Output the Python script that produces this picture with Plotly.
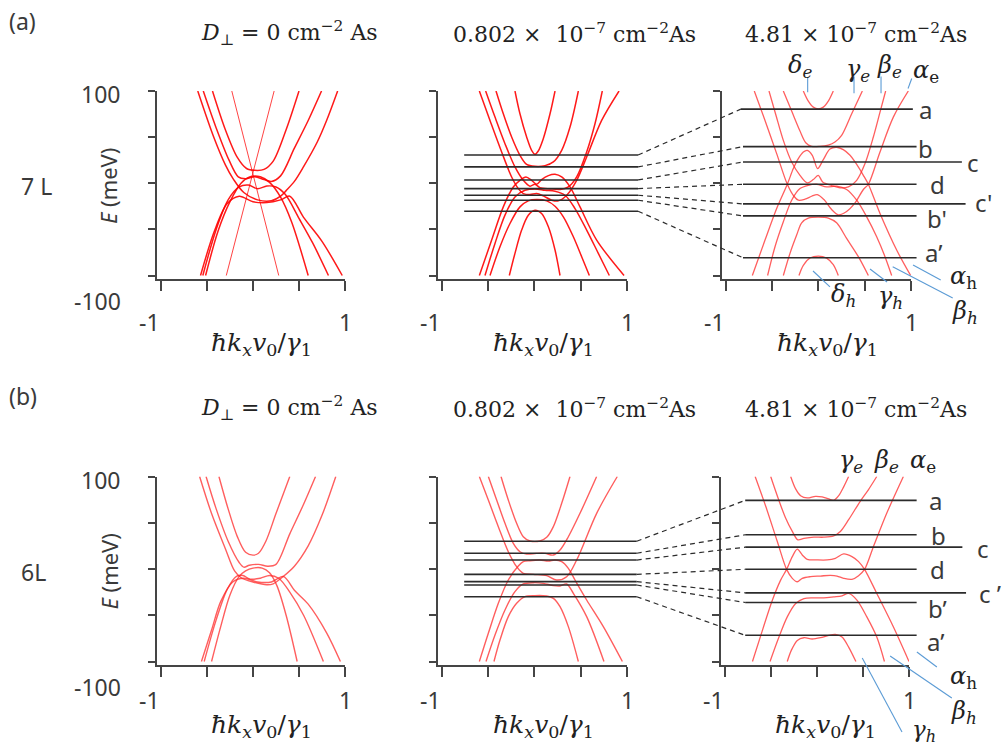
import plotly.graph_objects as go

W, H = 1005, 749

# ---------------- band data: k = hbar kx v0/gamma1 , E in meV ----------------
# Panel 1 : 7L, D = 0
P1_K = [
    [-0.23, 0.28],
    [0.23, -0.29],
    [-0.44, -0.30, -0.17, -0.07, 0.02, 0.12, 0.22, 0.36, 0.50],
    [-0.54, -0.40, -0.26, -0.16, -0.08, 0.02, 0.12, 0.20, 0.30, 0.45, 0.60, 0.745],
    [-0.60, -0.43, -0.30, -0.21, -0.10, 0.05, 0.20, 0.30, 0.36, 0.45, 0.55, 0.70, 0.80, 0.92],
    [-0.515, -0.38, -0.25, -0.13, -0.03, 0.08, 0.18, 0.30, 0.42, 0.60],
    [-0.545, -0.40, -0.27, -0.15, -0.05, 0.05, 0.15, 0.25, 0.35, 0.50, 0.65, 0.82],
    [-0.57, -0.42, -0.28, -0.15, 0.00, 0.15, 0.30, 0.40, 0.55, 0.75, 0.97],
]
P1_E = [
    [100, -100],
    [100, -100],
    [100, 58, 28, 16, 14, 15, 24, 58, 100],
    [100, 60, 25, 7, 5, 7, 4, 2, 8, 38, 68, 100],
    [100, 51, 20, 4, -10, -18, -19, -14, -8, 2, 18, 45, 68, 100],
    [-100, -52, -20, 0, 7, 7, 1, -15, -42, -100],
    [-100, -50, -18, -4, -2, -6, -3, -4, -12, -38, -65, -100],
    [-100, -52, -22, -14, -20, -21, -18, -14, -37, -63, -100],
]
P1_THIN = [0, 1]

# Panel 2 : 7L, D = 0.802e-7
P2_K = [
    [-0.211, -0.157, -0.085, -0.031, 0.005, 0.041, 0.095, 0.168, 0.222],
    [-0.272, -0.211, -0.139, -0.067, 0.005, 0.077, 0.150, 0.222, 0.276],
    [-0.596, -0.481, -0.355, -0.247, -0.175, -0.121, -0.049, 0.023, 0.095, 0.186, 0.258, 0.348, 0.456, 0.564, 0.726, 0.914],
    [-0.596, -0.463, -0.337, -0.229, -0.157, -0.092, -0.031, 0.023, 0.077, 0.150, 0.222, 0.294, 0.384, 0.492, 0.672, 0.968],
    [-0.528, -0.427, -0.319, -0.211, -0.121, -0.049, 0.005, 0.059, 0.168, 0.276, 0.366, 0.456, 0.564, 0.654, 0.733],
    [-0.535, -0.427, -0.319, -0.211, -0.103, 0.005, 0.114, 0.222, 0.330, 0.438, 0.564, 0.690, 0.809],
    [-0.416, -0.337, -0.247, -0.157, -0.085, 0.005, 0.114, 0.204, 0.294, 0.384, 0.474],
    [-0.481, -0.373, -0.265, -0.157, -0.067, 0.023, 0.132, 0.222, 0.312, 0.420, 0.510, 0.593],
]
P2_E = [
    [100, 75.3, 50.1, 35.7, 31.4, 35.0, 48.3, 75.3, 100],
    [-100, -76.0, -50.8, -34.6, -29.2, -32.8, -47.2, -72.4, -100],
    [100, 68.1, 33.9, 6.8, -5.8, -11.2, -12.3, -11.2, -13.7, -18.4, -19.1, -13.0, 3.2, 28.5, 68.1, 100],
    [-100, -61.6, -25.6, -4.0, 3.2, 6.8, 3.2, -1.1, 4.0, 8.3, 9.7, 6.8, -4.0, -25.6, -61.6, -100],
    [100, 71.7, 42.9, 17.7, 3.2, -3.2, -1.1, -4.7, -6.1, -6.8, -4.0, 6.8, 33.9, 64.5, 100],
    [-100, -65.2, -34.6, -14.8, -7.6, -6.1, -7.6, -8.6, -13.0, -27.4, -50.8, -76.0, -100],
    [100, 75.3, 50.1, 30.3, 20.5, 18.4, 19.1, 23.1, 35.7, 60.9, 100],
    [-100, -68.8, -43.6, -25.6, -19.1, -17.7, -19.1, -24.9, -36.4, -58.0, -79.6, -100],
]

# Panel 3 : 7L, D = 4.81e-7
P3_K = [
    [-0.164, -0.110, -0.056, -0.002, 0.052, 0.106, 0.160],
    [-0.211, -0.164, -0.092, -0.002, 0.088, 0.160, 0.214],
    [-0.694, -0.578, -0.452, -0.337, -0.265, -0.218, -0.146, -0.074, -0.013, 0.059, 0.142, 0.214, 0.304, 0.395, 0.485, 0.539, 0.665, 0.809, 0.971],
    [-0.715, -0.578, -0.452, -0.337, -0.272, -0.218, -0.164, -0.121, -0.067, -0.009, 0.052, 0.124, 0.196, 0.268, 0.341, 0.395, 0.485, 0.539, 0.665, 0.845, 0.996],
    [-0.535, -0.459, -0.380, -0.290, -0.200, -0.121, -0.056, -0.002, 0.045, 0.142, 0.232, 0.323, 0.413, 0.503, 0.593, 0.665, 0.726],
    [-0.550, -0.470, -0.380, -0.290, -0.200, -0.110, -0.020, 0.088, 0.196, 0.304, 0.413, 0.521, 0.629, 0.719, 0.791],
    [-0.380, -0.290, -0.200, -0.135, -0.074, 0.016, 0.106, 0.178, 0.250, 0.359, 0.474],
    [-0.380, -0.308, -0.236, -0.182, -0.110, -0.002, 0.106, 0.196, 0.304, 0.431, 0.539],
]
P3_E = [
    [100, 89.0, 82.5, 80.7, 82.5, 89.0, 100],
    [-100, -89.0, -81.1, -78.9, -81.1, -88.3, -100],
    [100, 68.1, 32.1, -1.1, -14.1, -18.4, -17.3, -14.1, -12.3, -17.7, -28.5, -34.2, -30.6, -21.3, -6.8, -1.1, 33.9, 71.7, 100],
    [-100, -61.6, -27.4, -1.1, 15.9, 26.7, 33.9, 35.7, 30.3, 15.9, 25.6, 37.1, 39.0, 36.4, 30.3, 23.1, 8.6, -1.1, -32.8, -72.4, -100],
    [100, 73.5, 46.5, 23.1, 8.6, 0.4, 4.0, 8.6, 1.4, -2.5, -5.0, -4.0, 3.2, 21.3, 50.1, 77.1, 100],
    [-100, -68.8, -41.8, -18.4, -5.8, -2.2, -1.1, -4.0, -3.2, -6.8, -18.4, -36.4, -58.0, -79.6, -100],
    [100, 78.2, 56.6, 43.6, 40.0, 40.0, 41.4, 44.7, 51.9, 75.3, 100],
    [-100, -76.0, -56.2, -42.9, -37.8, -36.8, -37.8, -42.9, -59.8, -79.6, -100],
]

# Panel 4 : 6L, D = 0
P4_K = [
    [-0.37, -0.27, -0.17, -0.08, 0.00, 0.06, 0.14, 0.25, 0.40],
    [-0.51, -0.40, -0.27, -0.15, -0.10, -0.04, 0.06, 0.16, 0.25, 0.40, 0.55, 0.68],
    [-0.58, -0.45, -0.30, -0.20, -0.12, 0.00, 0.15, 0.22, 0.33, 0.45, 0.60, 0.75, 0.90],
    [-0.45, -0.35, -0.25, -0.15, -0.08, 0.00, 0.10, 0.18, 0.26, 0.36, 0.48],
    [-0.53, -0.40, -0.28, -0.18, -0.11, -0.03, 0.08, 0.18, 0.28, 0.40, 0.55, 0.765],
    [-0.56, -0.45, -0.35, -0.22, -0.10, 0.05, 0.20, 0.33, 0.45, 0.60, 0.80, 0.95],
]
P4_E = [
    [100, 65, 35, 18, 15, 17, 30, 60, 100],
    [100, 65, 30, 7, 2, 4, 5, 3, 5, 38, 70, 100],
    [100, 60, 22, -2, -10, -14, -17, -16, -8, 3, 25, 58, 100],
    [-100, -62, -28, -8, -2, 1, 1, -4, -18, -50, -100],
    [-100, -55, -22, -8, -7, -11, -10, -7, -10, -25, -50, -100],
    [-100, -66, -35, -14, -10, -14, -14, -8, -23, -38, -69, -100],
]

# Panel 5 : 6L, D = 0.802e-7
P5_K = [
    [-0.362, -0.283, -0.193, -0.121, -0.049, 0.059, 0.132, 0.204, 0.294, 0.384],
    [-0.438, -0.373, -0.283, -0.193, -0.103, 0.005, 0.132, 0.204, 0.276, 0.366, 0.474],
    [-0.499, -0.409, -0.319, -0.229, -0.157, -0.085, 0.023, 0.114, 0.204, 0.276, 0.366, 0.492, 0.672],
    [-0.596, -0.499, -0.391, -0.283, -0.175, -0.121, -0.049, 0.059, 0.150, 0.222, 0.294, 0.366, 0.438, 0.564, 0.744, 0.950],
    [-0.596, -0.499, -0.391, -0.283, -0.193, -0.121, -0.013, 0.132, 0.240, 0.348, 0.456, 0.672, 0.895],
    [-0.524, -0.427, -0.319, -0.211, -0.121, -0.013, 0.095, 0.204, 0.276, 0.348, 0.420, 0.564, 0.751],
]
P5_E = [
    [100, 74.6, 49.4, 34.9, 30.3, 30.3, 34.2, 45.8, 71.0, 100],
    [-100, -76.8, -51.5, -37.1, -29.9, -28.8, -29.2, -31.7, -40.7, -62.3, -100],
    [100, 74.6, 49.4, 27.7, 18.7, 16.2, 16.9, 16.9, 15.1, 20.5, 34.9, 60.2, 100],
    [-100, -69.5, -37.1, -11.9, 3.2, 7.9, 9.0, 9.7, 8.6, 9.7, 7.9, 0.7, -11.9, -33.5, -62.3, -100],
    [100, 74.6, 45.8, 18.7, 2.5, -4.7, -5.8, -7.2, -11.9, -8.3, 9.7, 60.2, 100],
    [-100, -71.4, -44.3, -24.5, -16.2, -14.8, -15.5, -18.0, -18.4, -16.2, -26.3, -51.5, -100],
]

# Panel 6 : 6L, D = 4.81e-7
P6_K = [
    [-0.286, -0.232, -0.178, -0.106, -0.016, 0.056, 0.128, 0.182, 0.236, 0.290, 0.344],
    [-0.503, -0.423, -0.341, -0.268, -0.207, -0.142, -0.034, 0.074, 0.182, 0.254, 0.344, 0.470, 0.560, 0.650],
    [-0.701, -0.593, -0.485, -0.395, -0.330, -0.268, -0.214, -0.160, -0.106, 0.002, 0.110, 0.200, 0.290, 0.380, 0.452, 0.517, 0.650, 0.831, 1.000],
    [-0.672, -0.557, -0.431, -0.330, -0.268, -0.214, -0.160, -0.070, 0.038, 0.146, 0.218, 0.290, 0.380, 0.452, 0.517, 0.614, 0.759, 0.939],
    [-0.510, -0.413, -0.323, -0.232, -0.142, -0.034, 0.074, 0.182, 0.272, 0.344, 0.434, 0.542, 0.650, 0.733],
    [-0.323, -0.279, -0.214, -0.142, -0.052, 0.038, 0.128, 0.200, 0.272, 0.344, 0.423],
]
P6_E = [
    [100, 86.6, 79.3, 76.8, 78.6, 77.9, 75.7, 74.3, 79.3, 88.8, 100],
    [100, 76.8, 55.1, 40.6, 31.5, 33.0, 34.4, 34.4, 35.9, 40.6, 53.3, 73.2, 85.9, 100],
    [-100, -66.3, -33.7, -12.0, -0.4, 13.4, 21.4, 15.2, 10.5, 9.8, 9.8, 11.6, 16.3, 13.4, 8.0, -0.4, -26.4, -62.7, -100],
    [100, 67.8, 29.7, -0.4, -10.1, -13.8, -10.1, -8.3, -7.6, -6.9, -7.6, -10.1, -11.2, -7.2, -0.4, 24.3, 60.5, 100],
    [-100, -73.6, -51.8, -37.3, -31.9, -31.2, -31.2, -30.1, -29.0, -26.4, -33.7, -51.8, -73.6, -100],
    [-100, -88.0, -77.2, -74.3, -75.7, -74.3, -71.7, -70.7, -73.6, -84.4, -100],
]

# Energy levels (horizontal lines) and their labels
P2_LEVELS = [30.6, 17.7, 3.6, -5.8, -13.0, -18.4, -30.3]
P2_LINE_K = [-0.76, 1.12]
P3_LEVELS = [80.3, 39.7, 23.0, -1.1, -22.4, -35.4, -80.8]
P3_LINE_K0 = [-0.84, -0.816, -0.816, -0.816, -0.816, -0.816, -0.816]
P3_LINE_K1 = [1.02, 1.06, 1.55, 1.06, 1.59, 1.06, 1.06]
P5_LEVELS = [30.0, 17.0, 9.7, -5.8, -13.7, -17.3, -30.0]
P5_LINE_K = [-0.76, 1.105]
P6_LEVELS = [74.2, 37.0, 23.6, -0.3, -25.8, -36.2, -71.7]
P6_LINE_K0 = [-0.78] * 7
P6_LINE_K1 = [1.083, 1.083, 1.58, 1.083, 1.62, 1.083, 1.083]
LEVEL_NAMES_A = ["a", "b", "c", "d", "c'", "b'", "a’"]
LEVEL_NAMES_B = ["a", "b", "c", "d", "c ’", "b’", "a’"]

# Leader lines for band names (panel data units k, E)
P3_LEAD_K = [[-0.117, -0.117], [0.384, 0.384], [0.676, 0.676], [1.008, 0.968],
             [-0.059, 0.124], [0.557, 0.741], [0.802, 1.451], [1.022, 1.321]]
P3_LEAD_E = [[114.9, 98.7], [115.7, 97.6], [115.7, 97.6], [113.5, 102.7],
             [-95.1, -112.4], [-93.0, -107.0], [-90.5, -124.3], [-88.6, -104.9]]
P6_LEAD_K = [[1.086, 1.303], [0.795, 1.465], [0.492, 0.924]]
P6_LEAD_E = [[-89.7, -105.9], [-94.1, -139.5], [-96.2, -176.2]]

TITLES = ["<i>D</i><sub>⊥</sub> = 0 cm<sup>−2</sup> As",
          "0.802 ×  10<sup>−7</sup> cm<sup>−2</sup>As",
          "4.81 × 10<sup>−7</sup> cm<sup>−2</sup>As"]
XTITLE = "<i>ħk</i><sub><i>x</i></sub><i>v</i><sub>0</sub>/<i>γ</i><sub>1</sub>"
XTICKS = [-1, -0.5, 0, 0.5, 1]
YTICKS = [-100, -50, 0, 50, 100]

# ---------------- geometry (pixels) ----------------
XDOM = {1: (157, 345), 2: (438, 627), 3: (722, 911), 4: (157, 345), 5: (438, 627), 6: (721, 909)}
KMIN, KMAX = -1.043, 1.0
ROW = {"a": dict(top=91.0, scale=0.9225, bottom=279.0), "b": dict(top=476.5, scale=0.925, bottom=664.5)}
for r in ROW.values():
    r["emin"] = 100 - (r["bottom"] - r["top"]) / r["scale"]
PANEL_ROW = {1: "a", 2: "a", 3: "a", 4: "b", 5: "b", 6: "b"}

AXC = "#454545"
TXT = "#3a3a3a"
SANS = "Noto Sans"
SERIF = "DejaVu Serif"


def px_of(p, k):
    x0, x1 = XDOM[p]
    return x0 + (k - KMIN) / (KMAX - KMIN) * (x1 - x0)


def k_in(p, px):
    x0, x1 = XDOM[p]
    return KMIN + (px - x0) * (KMAX - KMIN) / (x1 - x0)


def to_ref(p_from, p_ref, k):
    return k_in(p_ref, px_of(p_from, k))


fig = go.Figure()


def ax_id(i, c):
    return c if i == 1 else f"{c}{i}"


def add_curves(ks, es, p, color, width, thin=(), thin_color=None):
    for j, (k, e) in enumerate(zip(ks, es)):
        c = thin_color if j in thin else color
        w = 1.0 if j in thin else width
        fig.add_trace(go.Scatter(x=k, y=e, mode="lines",
                                 line=dict(color=c, width=w, shape="spline", smoothing=0.9),
                                 xaxis=ax_id(p, "x"), yaxis=ax_id(p, "y"),
                                 hoverinfo="skip", showlegend=False))


RED_A = "rgba(255,0,0,0.9)"
RED_L = "rgba(255,40,40,0.75)"
add_curves(P1_K, P1_E, 1, RED_A, 1.5, thin=P1_THIN, thin_color="rgba(255,20,20,0.8)")
add_curves(P2_K, P2_E, 2, RED_A, 1.5)
add_curves(P3_K, P3_E, 3, RED_L, 1.3)
add_curves(P4_K, P4_E, 4, RED_L, 1.4)
add_curves(P5_K, P5_E, 5, RED_L, 1.4)
add_curves(P6_K, P6_E, 6, RED_L, 1.3)

# overlay axes: 7 for row a (panel-2 units), 8 for row b (panel-5 units)
OV = {"a": (7, 2), "b": (8, 5)}


def ov_trace(row, x, y, color, width, dash="solid"):
    n, _ = OV[row]
    fig.add_trace(go.Scatter(x=x, y=y, mode="lines", line=dict(color=color, width=width, dash=dash),
                             xaxis=f"x{n}", yaxis=f"y{n}", hoverinfo="skip", showlegend=False))


def level_block(row, pL, pR, levL, lineL, levR, k0R, k1R):
    _, pref = OV[row]
    for i in range(len(levL)):
        ov_trace(row, lineL, [levL[i], levL[i]], "#2b2b2b", 1.6)
        xs = [to_ref(pR, pref, k0R[i]), to_ref(pR, pref, k1R[i])]
        ov_trace(row, xs, [levR[i], levR[i]], "#2b2b2b", 1.6)
        ov_trace(row, [lineL[1], xs[0]], [levL[i], levR[i]], "#2b2b2b", 1.2, dash="5px,4px")


level_block("a", 2, 3, P2_LEVELS, P2_LINE_K, P3_LEVELS, P3_LINE_K0, P3_LINE_K1)
level_block("b", 5, 6, P5_LEVELS, P5_LINE_K, P6_LEVELS, P6_LINE_K0, P6_LINE_K1)

BLUE = "#5b9bd5"
for k, e in zip(P3_LEAD_K, P3_LEAD_E):
    ov_trace("a", [to_ref(3, 2, v) for v in k], e, BLUE, 1.1)
for k, e in zip(P6_LEAD_K, P6_LEAD_E):
    ov_trace("b", [to_ref(6, 5, v) for v in k], e, BLUE, 1.1)

layout = dict(width=W, height=H, margin=dict(l=0, r=0, t=0, b=0), autosize=False,
              paper_bgcolor="white", plot_bgcolor="rgba(0,0,0,0)", showlegend=False)

for i in range(1, 7):
    r = ROW[PANEL_ROW[i]]
    x0, x1 = XDOM[i]
    xa = "xaxis" if i == 1 else f"xaxis{i}"
    ya = "yaxis" if i == 1 else f"yaxis{i}"
    layout[xa] = dict(domain=[x0 / W, x1 / W], range=[KMIN, KMAX], anchor=ax_id(i, "y"),
                      showline=True, linecolor=AXC, linewidth=2, ticks="outside", ticklen=10,
                      tickwidth=1.6, tickcolor=AXC, tickvals=XTICKS, showticklabels=False,
                      showgrid=False, zeroline=False, fixedrange=True)
    layout[ya] = dict(domain=[1 - r["bottom"] / H, 1 - r["top"] / H], range=[r["emin"], 100],
                      anchor=ax_id(i, "x"), showline=True, linecolor=AXC, linewidth=2,
                      ticks="outside", ticklen=7, tickwidth=1.6, tickcolor=AXC, tickvals=YTICKS,
                      showticklabels=False, showgrid=False, zeroline=False, fixedrange=True)

for row, (n, pref) in OV.items():
    r = ROW[row]
    layout[f"xaxis{n}"] = dict(domain=[0, 1], range=[k_in(pref, 0), k_in(pref, W)], anchor=f"y{n}",
                               visible=False, fixedrange=True)
    layout[f"yaxis{n}"] = dict(domain=[0, 1], range=[100 - (H - r["top"]) / r["scale"],
                                                      100 + r["top"] / r["scale"]],
                               anchor=f"x{n}", visible=False, fixedrange=True)

ann = []


def T(px, py, text, size, family=SANS, color=TXT, xanchor="center", angle=0):
    ann.append(dict(x=px / W, y=1 - py / H, xref="paper", yref="paper", text=text, showarrow=False,
                    font=dict(size=size, family=family, color=color), xanchor=xanchor,
                    yanchor="middle", textangle=angle))


for row, ty, tag, lay, xl_y, xt_y in (("a", 33, "(a)", "7 L", 322, 344), ("b", 408, "(b)", "6L", 700, 726)):
    r = ROW[row]
    T(7, ty - 12, tag, 23, xanchor="left")
    for j, cx in enumerate((289, 574, 856)):
        T(cx, ty, TITLES[j], 22, family=SERIF, color="#222")
    T(19, r["top"] + 95, lay, 23, xanchor="left")
    T(122, r["top"] + 3, "100", 23, xanchor="right")
    T(123, r["top"] + 210, "-100", 23, xanchor="right")
    T(108, r["top"] + 95, "<i>E</i> (meV)", 22, angle=-90)
    base = 1 if row == "a" else 4
    for j in range(3):
        p = base + j
        T(px_of(p, -1) + 1, xl_y, "-1", 23, xanchor="right")
        T(px_of(p, 1), xl_y, "1", 23)
        T(px_of(p, 0) + 9, xt_y, XTITLE, 25, family=SERIF, color="#222")

for name, (px, py) in zip(LEVEL_NAMES_A, [(925, 110), (925, 148), (973, 162), (937, 184), (983, 203), (937, 219), (933, 252)]):
    T(px, py, name, 24)
for name, (px, py) in zip(LEVEL_NAMES_B, [(935, 500), (938, 535), (983, 548), (937, 569), (990, 593), (937, 608), (935, 641)]):
    T(px, py, name, 24)

GREEK_A = [("<i>δ</i><sub><i>e</i></sub>", 800, 67), ("<i>γ</i><sub><i>e</i></sub>", 858, 70),
           ("<i>β</i><sub><i>e</i></sub>", 889, 67), ("<i>α</i><sub>e</sub>", 926, 71),
           ("<i>δ</i><sub><i>h</i></sub>", 843, 295), ("<i>γ</i><sub><i>h</i></sub>", 890, 297),
           ("<i>β</i><sub><i>h</i></sub>", 965, 312), ("<i>α</i><sub>h</sub>", 963, 277)]
GREEK_B = [("<i>γ</i><sub><i>e</i></sub>", 851, 461), ("<i>β</i><sub><i>e</i></sub>", 886, 461),
           ("<i>α</i><sub>e</sub>", 923, 461), ("<i>α</i><sub>h</sub>", 963, 677),
           ("<i>β</i><sub><i>h</i></sub>", 964, 712), ("<i>γ</i><sub><i>h</i></sub>", 924, 731)]
for t, px, py in GREEK_A + GREEK_B:
    T(px, py, t, 23 if py > 720 else 24, family=SERIF, color="#222")

layout["annotations"] = ann
fig.update_layout(**layout)
fig.write_html("out.html", config={"displayModeBar": False},
               post_script="document.body.style.margin='0px';document.body.style.overflow='hidden';")
